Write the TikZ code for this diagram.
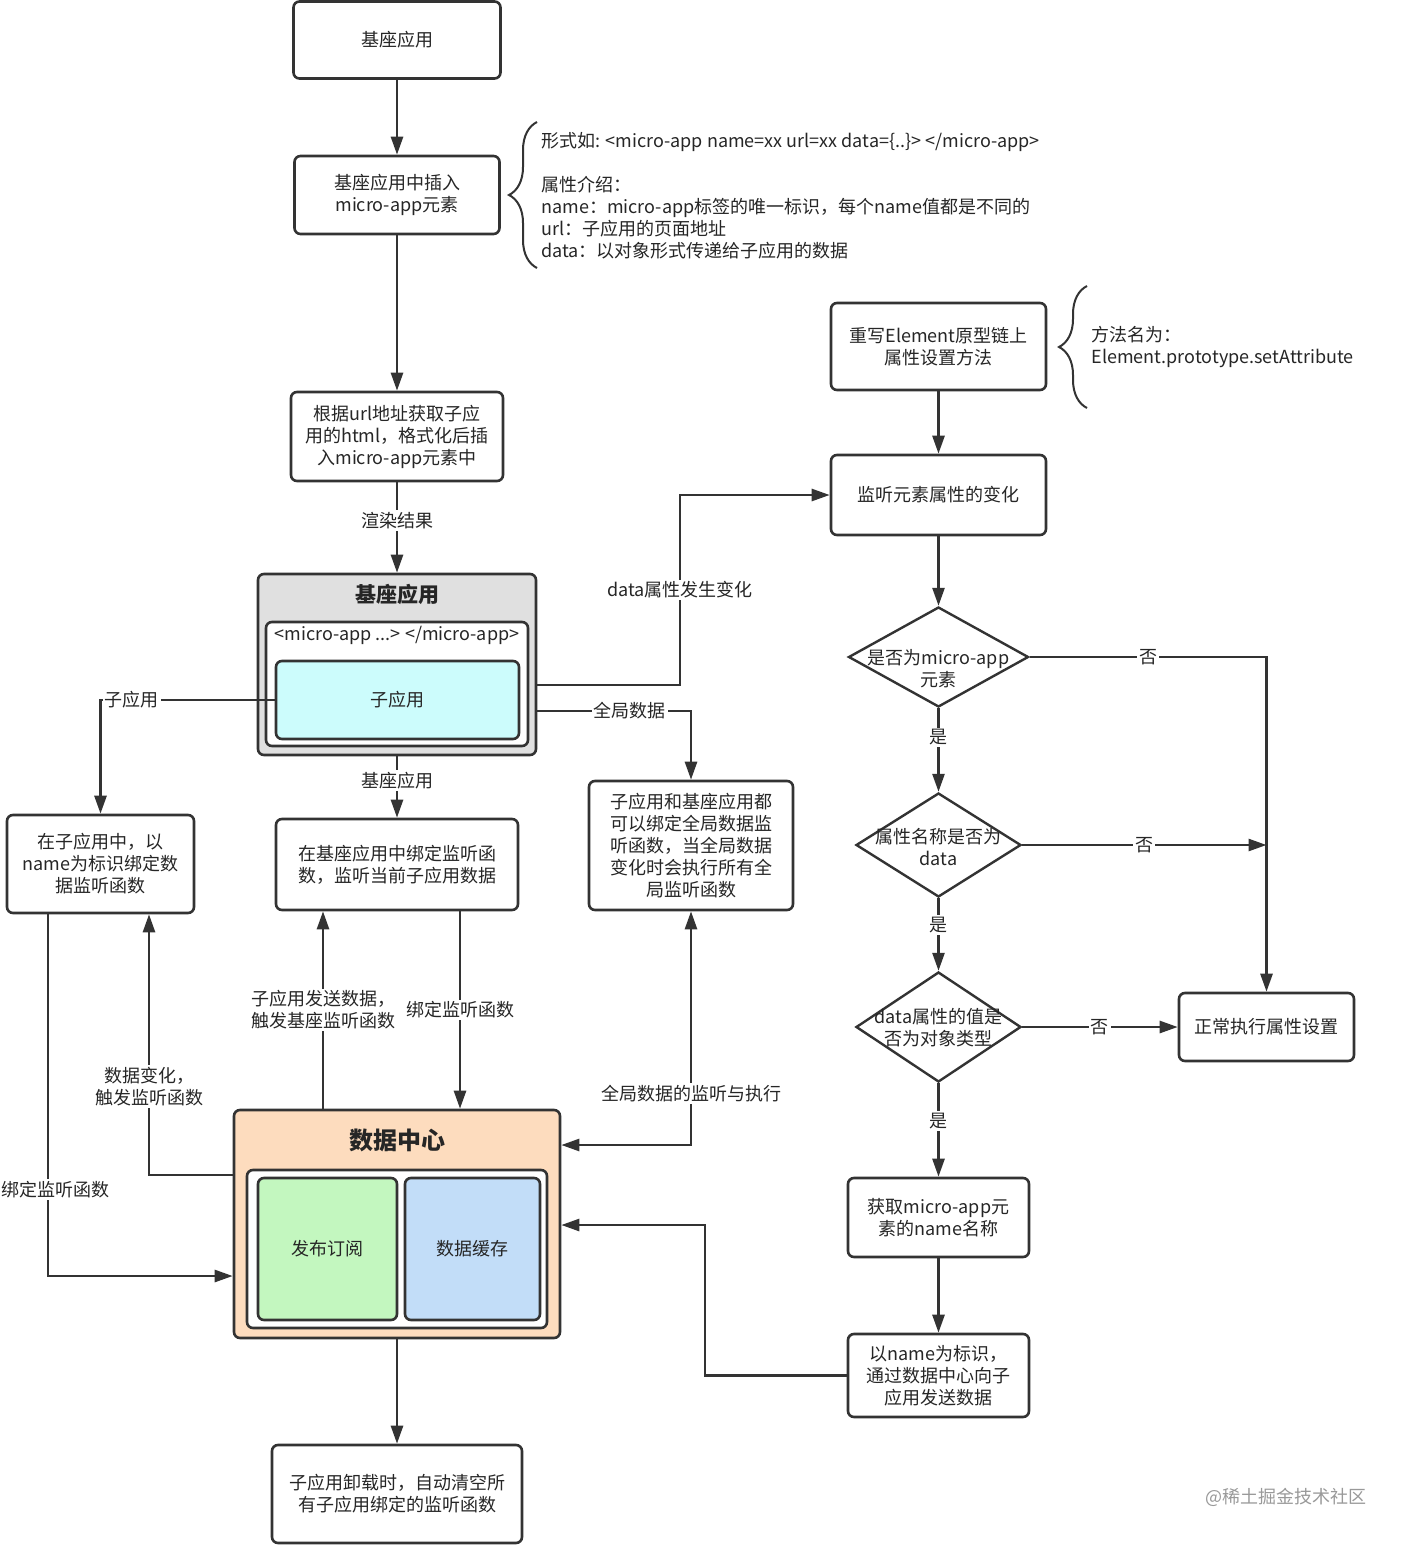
\documentclass[tikz,border=0pt]{standalone}
\usepackage{fontspec}
\setmainfont{Noto Sans CJK SC}
\usetikzlibrary{arrows.meta,shapes.geometric,decorations.pathreplacing}

\definecolor{linec}{HTML}{333333}
\definecolor{grayfill}{HTML}{E0E0E0}
\definecolor{cyanfill}{HTML}{CCFCFC}
\definecolor{peach}{HTML}{FDDCBE}
\definecolor{greenfill}{HTML}{C3F7BF}
\definecolor{bluefill}{HTML}{C2DDF8}

\begin{document}
\begin{tikzpicture}[x=0.5pt, y=-0.5pt,
    font=\fontsize{9pt}{11pt}\selectfont, text=black!85,
    >={Triangle[length=9pt,width=6pt]},
    flowbox/.style={draw=linec, line width=1.3pt, rounded corners=3pt, fill=white,
      align=center, inner sep=0pt},
    dia/.style={draw=linec, line width=1.2pt, diamond, fill=white, inner sep=0pt},
    arr/.style={draw=linec, line width=1.3pt, ->},
    biarr/.style={draw=linec, line width=1.3pt, <->},
    lbl/.style={fill=white, inner sep=1pt, align=center},
    note/.style={align=left, inner sep=0pt, anchor=west},
    curly/.style={draw=linec, line width=1pt, decorate,
      decoration={brace, amplitude=14pt}},
  ]

  % page
  \path[use as bounding box, fill=white] (0,0) rectangle (1404,1546);

  % Left column: base application
  \node[flowbox, minimum width=103.5pt, minimum height=38.5pt] (app) at (397,40) {基座应用};
  \node[flowbox, minimum width=102.5pt, minimum height=39pt] (insert) at (397,195) {基座应用中插入\\micro-app元素};
  \node[flowbox, minimum width=106pt, minimum height=44.5pt] (fetch) at (397,436.5) {根据url地址获取子应\\用的html，格式化后插\\入micro-app元素中};

  % base container with the sub application
  \node[flowbox, fill=grayfill, minimum width=139pt, minimum height=90.5pt] (base) at (397,664.5) {};
  \node[font=\fontsize{10.5pt}{12pt}\selectfont\bfseries] (basetitle) at (397,594) {基座应用};
  \node[flowbox, minimum width=131pt, minimum height=62pt] (tagbox) at (397,684) {};
  \node (tagtext) at (397,635) {<micro-app ...> </micro-app>};
  \node[flowbox, fill=cyanfill, minimum width=121.5pt, minimum height=39pt] (sub) at (397.5,700) {子应用};

  % listeners
  \node[flowbox, minimum width=93.5pt, minimum height=49pt] (subbind) at (100.5,864) {在子应用中，以\\name为标识绑定数\\据监听函数};
  \node[flowbox, minimum width=121pt, minimum height=45.5pt] (bind) at (397,864.5) {在基座应用中绑定监听函\\数，监听当前子应用数据};
  \node[flowbox, minimum width=102pt, minimum height=64.5pt] (glob) at (691,845.5) {子应用和基座应用都\\可以绑定全局数据监\\听函数，当全局数据\\变化时会执行所有全\\局监听函数};

  % data center
  \node[flowbox, fill=peach, minimum width=163pt, minimum height=114pt] (dc) at (397,1224) {};
  \node[font=\fontsize{12pt}{14pt}\selectfont\bfseries] (dctitle) at (397,1140) {数据中心};
  \node[flowbox, minimum width=150pt, minimum height=79pt] (dcinner) at (397,1249) {};
  \node[flowbox, fill=greenfill, minimum width=69.5pt, minimum height=71pt] (pubsub) at (327.5,1249) {发布订阅};
  \node[flowbox, fill=bluefill, minimum width=67.5pt, minimum height=71pt] (cache) at (472.5,1249) {数据缓存};
  \node[flowbox, minimum width=125pt, minimum height=49pt] (unload) at (397,1494) {子应用卸载时，自动清空所\\有子应用绑定的监听函数};

  % Right column: setAttribute
  \node[flowbox, minimum width=107.5pt, minimum height=43.5pt] (rewrite) at (938.5,346.5) {重写Element原型链上\\属性设置方法};
  \node[flowbox, minimum width=107.5pt, minimum height=40pt] (watch) at (938.5,495) {监听元素属性的变化};
  \node[dia, minimum width=90pt, minimum height=50pt] (isapp) at (938.5,657) {};
  \node[align=center] (isapptext) at (938.5,669) {是否为micro-app\\元素};
  \node[dia, minimum width=82.5pt, minimum height=52pt] (isdata) at (938.5,845) {};
  \node[align=center] (isdatatext) at (938.5,847) {属性名称是否为\\data};
  \node[dia, minimum width=82.5pt, minimum height=55pt] (isobj) at (938.5,1027) {};
  \node[align=center] (isobjtext) at (938.5,1028) {data属性的值是\\否为对象类型};
  \node[flowbox, minimum width=90.5pt, minimum height=39.5pt] (getname) at (938.5,1217.5) {获取micro-app元\\素的name名称};
  \node[flowbox, minimum width=90.5pt, minimum height=41.5pt] (send) at (938.5,1375.5) {以name为标识，\\通过数据中心向子\\应用发送数据};
  \node[flowbox, minimum width=87.5pt, minimum height=34pt] (normal) at (1266.5,1027) {正常执行属性设置};

  % Notes with braces
  \draw[curly] (537,268) -- (537,122);
  \node[note] (attrs) at (541,196) {形式如: <micro-app name=xx url=xx data=\{..\}> </micro-app>\\[11pt]属性介绍：\\name：micro-app标签的唯一标识，每个name值都是不同的\\url：子应用的页面地址\\data：以对象形式传递给子应用的数据};
  \draw[curly] (1087,408) -- (1087,286);
  \node[note] (method) at (1091,347) {方法名为：\\Element.prototype.setAttribute};

  % Connectors, left part
  \draw[arr] (app.south) -- (insert.north);
  \draw[arr] (insert.south) -- (fetch.north);
  \draw[arr] (fetch.south) -- node[lbl,pos=0.42]{渲染结果} (base.north);
  \draw[arr] (base.east |- 0,685) -| node[lbl,pos=0.75]{data属性发生变化} (680,495) -- (watch.west);
  \draw[arr] (base.east |- 0,711) -| node[lbl,pos=0.3]{全局数据} (glob.north);
  \draw[arr] (sub.west) -| node[lbl,pos=0.41]{子应用} (subbind.north);
  \draw[arr] (base.south) -- node[lbl,pos=0.4]{基座应用} (bind.north);
  \draw[arr] (dc.north -| 323,0) -- node[lbl]{子应用发送数据，\\触发基座监听函数} (bind.south -| 323,0);
  \draw[arr] (bind.south -| 460,0) -- node[lbl]{绑定监听函数} (dc.north -| 460,0);
  \draw[arr] (dc.west |- 0,1175) -| node[lbl,pos=0.67]{数据变化，\\触发监听函数} (subbind.south -| 149,0);
  \draw[arr] (subbind.south -| 48,0) |- node[lbl,pos=0.38,xshift=4pt]{绑定监听函数} (dc.west |- 0,1276);
  \draw[biarr] (dc.east |- 0,1145) -| node[lbl,pos=0.61]{全局数据的监听与执行} (glob.south);
  \draw[arr] (send.west) -| (705,1225) -- (dc.east |- 0,1225);
  \draw[arr] (dc.south) -- (unload.north);

  % Connectors, right part
  \draw[arr] (rewrite.south) -- (watch.north);
  \draw[arr] (watch.south) -- (isapp.north);
  \draw[arr] (isapp.south) -- node[lbl,pos=0.35]{是} (isdata.north);
  \draw[arr] (isdata.south) -- node[lbl,pos=0.37]{是} (isobj.north);
  \draw[arr] (isobj.south) -- node[lbl,pos=0.4]{是} (getname.north);
  \draw[arr] (getname.south) -- (send.north);
  \draw[arr] (isapp.east) -| node[lbl,pos=0.25]{否} (normal.north);
  \draw[arr] (isdata.east) -- node[lbl]{否} (normal.north |- isdata.east);
  \draw[arr] (isobj.east) -- node[lbl]{否} (normal.west);

  % watermark
  \node[text=black!40] (mark) at (1286,1497) {@稀土掘金技术社区};
\end{tikzpicture}
\end{document}
